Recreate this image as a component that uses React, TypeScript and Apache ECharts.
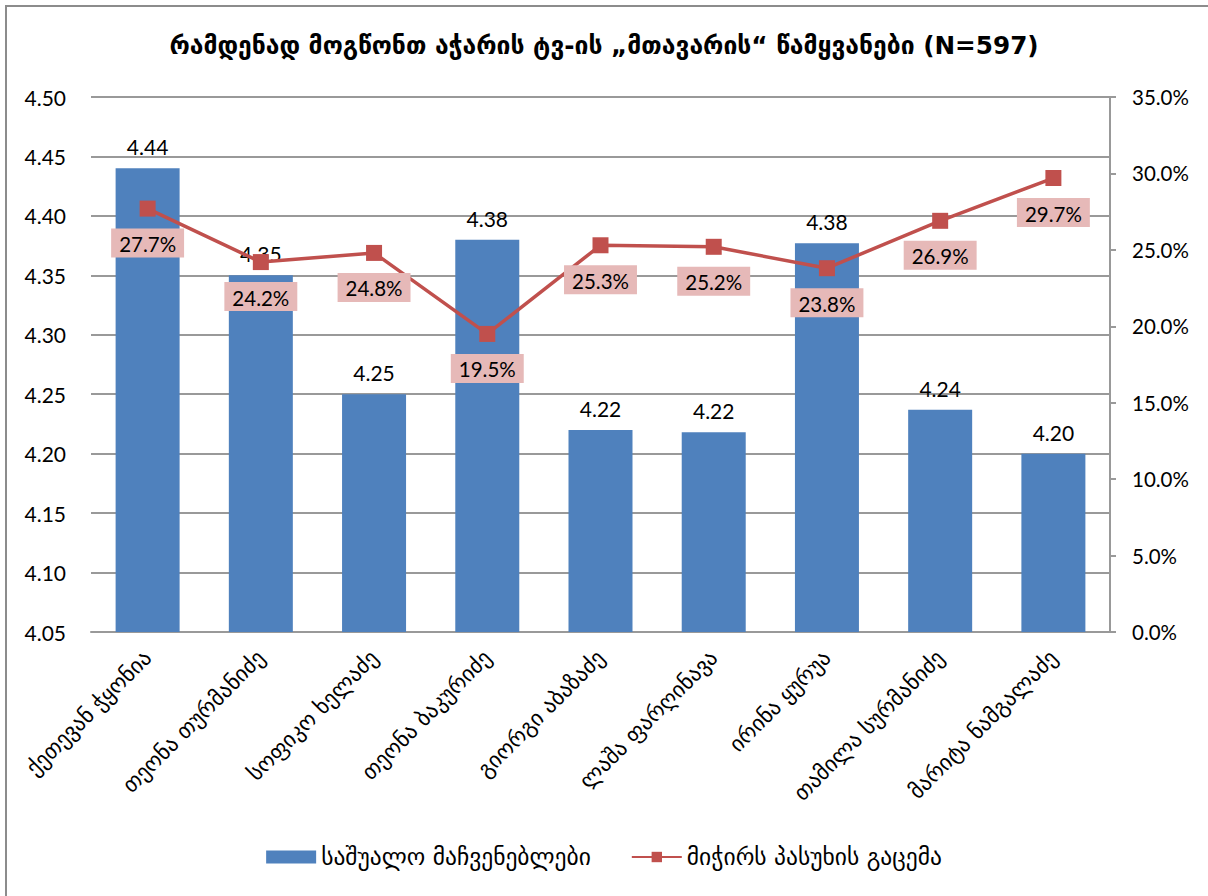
import React, { useEffect, useRef } from "react";
import * as echarts from "echarts";

const titleText = "რამდენად მოგწონთ აჭარის ტვ-ის „მთავარის“ წამყვანები (N=597)";
const categories = [
  "ქეთევან ჭყონია",
  "თეონა თურმანიძე",
  "სოფიკო ხელაძე",
  "თეონა ბაკურიძე",
  "გიორგი აბაზაძე",
  "ლაშა ფარღინავა",
  "ირინა ყურუა",
  "თამილა სურმანიძე",
  "მარიტა ნამგალაძე",
];
const barName = "საშუალო მაჩვენებლები";
const lineName = "მიჭირს პასუხის გაცემა";
const averages = [4.44, 4.35, 4.25, 4.38, 4.22, 4.218, 4.377, 4.237, 4.2];
const hardToAnswer = [27.7, 24.2, 24.8, 19.5, 25.3, 25.2, 23.8, 26.9, 29.7];

const FONT = "Lato, 'DejaVu Sans', sans-serif";
const GEO = "'DejaVu Sans', sans-serif";

export default function App() {
  const ref = useRef<HTMLDivElement>(null);
  useEffect(() => {
    if (!ref.current) return;
    const chart = echarts.init(ref.current, null, { renderer: "svg" });
    chart.setOption({
      animation: false,
      backgroundColor: "#ffffff",
      title: {
        text: titleText,
        left: "center",
        top: 28,
        textStyle: { fontFamily: GEO, fontWeight: "bold", fontSize: 24.7, color: "#000" },
      },
      graphic: [
        {
          type: "rect",
          shape: { x: 6, y: 6, width: 1230, height: 920 },
          style: { fill: "none", stroke: "#8c8c8c", lineWidth: 2 },
          silent: true,
        },
      ],
      grid: { left: 91, right: 98, top: 97, bottom: 264, containLabel: false },
      legend: {
        bottom: 22,
        left: "center",
        itemWidth: 50,
        itemHeight: 13,
        itemGap: 40,
        textStyle: { fontFamily: GEO, fontSize: 23.5, color: "#000" },
        data: [
          { name: barName, icon: "rect" },
          { name: lineName },
        ],
      },
      xAxis: {
        type: "category",
        data: categories,
        axisLine: { show: true, lineStyle: { color: "#999", width: 2 } },
        axisTick: { show: false },
        axisLabel: {
          rotate: 45,
          interval: 0,
          margin: 22,
          fontFamily: GEO,
          fontSize: 22,
          color: "#000",
        },
      },
      yAxis: [
        {
          type: "value",
          min: 4.05,
          max: 4.5,
          interval: 0.05,
          axisLine: { show: false },
          axisTick: { show: false },
          splitLine: { show: true, lineStyle: { color: "#999", width: 2 } },
          axisLabel: {
            margin: 25,
            fontFamily: FONT,
            fontSize: 21,
            color: "#000",
            formatter: (v: number) => v.toFixed(2),
          },
        },
        {
          type: "value",
          min: 0,
          max: 35,
          interval: 5,
          position: "right",
          axisLine: { show: true, lineStyle: { color: "#999", width: 2 } },
          axisTick: { show: true, length: 6, lineStyle: { color: "#999", width: 2 } },
          splitLine: { show: false },
          axisLabel: {
            margin: 22,
            fontFamily: FONT,
            fontSize: 20.5,
            color: "#000",
            formatter: (v: number) => v.toFixed(1) + "%",
          },
        },
      ],
      series: [
        {
          name: barName,
          type: "bar",
          data: averages,
          yAxisIndex: 0,
          barWidth: 64,
          itemStyle: { color: "#4f81bd" },
          label: {
            show: true,
            position: "top",
            distance: 11,
            fontFamily: FONT,
            fontSize: 21,
            color: "#000",
            formatter: (p: any) => Number(p.value).toFixed(2),
          },
        },
        {
          name: lineName,
          type: "line",
          data: hardToAnswer,
          yAxisIndex: 1,
          symbol: "rect",
          symbolSize: 16,
          itemStyle: { color: "#c0504d" },
          lineStyle: { color: "#c0504d", width: 3.5 },
          label: {
            show: true,
            position: "bottom",
            distance: 12,
            fontFamily: FONT,
            fontSize: 20.5,
            color: "#000",
            backgroundColor: "#e6b9b8",
            padding: [5, 8, 3, 8],
            formatter: (p: any) => Number(p.value).toFixed(1) + "%",
          },
        },
      ],
    });
    return () => chart.dispose();
  }, []);
  return (
    <div
      ref={ref}
      style={{ position: "fixed", left: 0, top: 0, width: 1208, height: 896 }}
    />
  );
}
